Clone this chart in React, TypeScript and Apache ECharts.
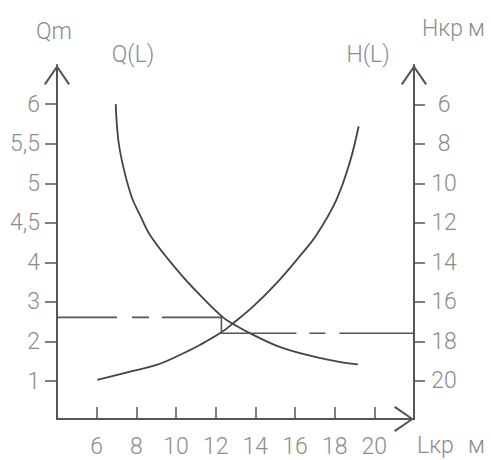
import React, { useEffect, useRef } from "react";
import * as echarts from "echarts";

// Axis ticks
const L_TICKS = [6, 8, 10, 12, 14, 16, 18, 20];
const H_TICKS = [6, 8, 10, 12, 14, 16, 18, 20];
const Q_TICKS = [1, 2, 3, 4, 4.5, 5, 5.5, 6];
const Q_LABELS = ["1", "2", "3", "4", "4,5", "5", "5,5", "6"];

// Q(L) curve
const qL = [6.96, 7.09, 7.34, 7.76, 8.18, 8.78, 10.19, 11.2, 12.37, 12.96, 13.72, 15.4, 17.58, 19.17];
const qValues = [6.0, 5.55, 5.21, 4.83, 4.6, 4.31, 3.73, 3.18, 2.61, 2.42, 2.21, 1.83, 1.55, 1.42];

// H(L) curve
const hL = [6.03, 7.68, 9.02, 10.19, 11.2, 12.29, 12.88, 13.88, 15.06, 16.24, 17.08, 18.08, 18.75, 19.21];
const hValues = [19.95, 19.53, 19.19, 18.69, 18.18, 17.54, 17.08, 16.24, 15.06, 13.68, 12.61, 10.84, 8.97, 7.1];

// Construction (dashed) lines
const workL = 12.29;
const workQ = 2.61;
const workHTop = 16.78;
const workH = 17.59;

// non-uniform Q scale -> axis position
function qToAxis(q: number): number {
  const n = Q_TICKS.length;
  for (let i = 0; i < n - 1; i++) {
    if (q <= Q_TICKS[i + 1] || i === n - 2) {
      return i + (q - Q_TICKS[i]) / (Q_TICKS[i + 1] - Q_TICKS[i]);
    }
  }
  return 0;
}

const FONT = "Roboto";
const LABEL_COLOR = "#8c8c8c";
const AXIS_COLOR = "#555";
const ARROW = "path://M13,0 L26,18.6 L24.3,19.8 L13,3.3 L1.7,19.8 L0,18.6 Z";

export default function App() {
  const ref = useRef<HTMLDivElement>(null);
  useEffect(() => {
    document.body.style.margin = "0";
    const chart = echarts.init(ref.current!, null, { renderer: "svg" });
    const labelStyle = {
      color: LABEL_COLOR,
      fontFamily: FONT,
      fontWeight: 300 as any,
      fontSize: 23,
    };
    const textStyle = (text: string, align: string) => ({
      text,
      fill: LABEL_COLOR,
      fontFamily: FONT,
      fontWeight: 300,
      fontSize: 23,
      align,
      verticalAlign: "middle",
    });
    const axisLine = {
      show: true,
      onZero: false,
      lineStyle: { color: AXIS_COLOR, width: 2 },
      symbol: ["none", ARROW],
      symbolSize: [26, 20],
      symbolOffset: [0, -10],
    };
    chart.setOption({
      animation: false,
      backgroundColor: "#fff",
      grid: { left: 57, right: 77, top: 65, bottom: 41 },
      xAxis: {
        type: "value",
        min: 4,
        max: 22,
        axisLine,
        axisTick: {
          show: true,
          inside: true,
          length: 12,
          customValues: L_TICKS,
          lineStyle: { color: AXIS_COLOR, width: 1.5 },
        },
        axisLabel: {
          ...labelStyle,
          customValues: L_TICKS,
          margin: 27,
          verticalAlign: "middle",
        },
        splitLine: { show: false },
      },
      yAxis: [
        {
          type: "value",
          position: "left",
          min: -0.96,
          max: 7.99,
          axisLine,
          axisTick: {
            show: true,
            length: 12,
            customValues: Q_TICKS.map(qToAxis),
            lineStyle: { color: AXIS_COLOR, width: 1.5 },
          },
          axisLabel: {
            ...labelStyle,
            customValues: Q_TICKS.map(qToAxis),
            margin: 17,
            formatter: (v: number) => Q_LABELS[Math.round(v)] ?? "",
          },
          splitLine: { show: false },
        },
        {
          type: "value",
          position: "right",
          inverse: true,
          min: 4,
          max: 21.93,
          axisLine,
          axisTick: {
            show: true,
            length: 11,
            customValues: H_TICKS,
            lineStyle: { color: AXIS_COLOR, width: 1.5 },
          },
          axisLabel: {
            ...labelStyle,
            customValues: H_TICKS,
            margin: 30,
            align: "center",
          },
          splitLine: { show: false },
        },
      ],
      graphic: [
        { type: "text", x: 54, y: 31, style: textStyle("Qm", "center") },
        { type: "text", x: 133, y: 54, style: textStyle("Q(L)", "center") },
        { type: "text", x: 368, y: 54, style: textStyle("H(L)", "center") },
        { type: "text", x: 422, y: 28, style: textStyle("Hкр", "left") },
        { type: "text", x: 468, y: 28, style: textStyle("м", "left") },
        { type: "text", x: 417, y: 445, style: textStyle("Lкр", "left") },
        { type: "text", x: 468, y: 445, style: textStyle("м", "left") },
      ],
      series: [
        {
          name: "Q(L)",
          type: "line",
          yAxisIndex: 0,
          smooth: 0.4,
          symbol: "none",
          lineStyle: { color: "#444", width: 1.8 },
          data: qL.map((l, i) => [l, qToAxis(qValues[i])]),
        },
        {
          name: "H(L)",
          type: "line",
          yAxisIndex: 1,
          smooth: 0.4,
          symbol: "none",
          lineStyle: { color: "#444", width: 1.8 },
          data: hL.map((l, i) => [l, hValues[i]]),
        },
        {
          name: "Qwork",
          type: "line",
          yAxisIndex: 0,
          symbol: "none",
          clip: false,
          lineStyle: { color: "#555", width: 1.6, type: [60, 15, 17, 13, 400] },
          data: [
            [4, qToAxis(workQ)],
            [workL, qToAxis(workQ)],
          ],
        },
        {
          name: "Hwork",
          type: "line",
          yAxisIndex: 1,
          symbol: "none",
          clip: false,
          lineStyle: { color: "#555", width: 1.6, type: [91, 13, 16, 14, 400] },
          data: [
            [workL, workHTop],
            [workL, workH],
            [22, workH],
          ],
        },
      ],
    });
    return () => chart.dispose();
  }, []);
  return <div ref={ref} style={{ width: 491, height: 460 }} />;
}
